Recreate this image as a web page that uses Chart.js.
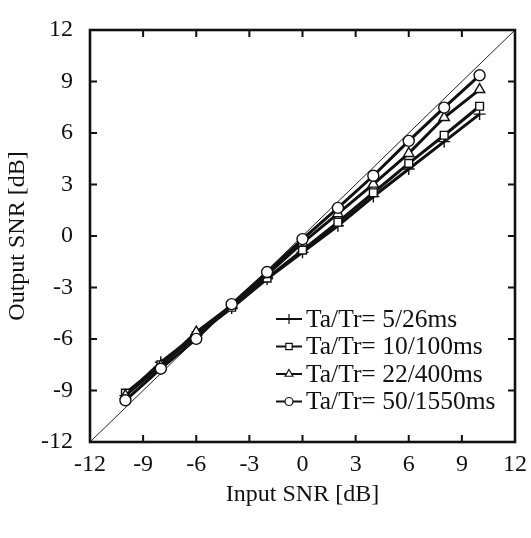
<!DOCTYPE html>
<html><head><meta charset="utf-8">
<script src="https://cdn.jsdelivr.net/npm/chart.js@4.4.0/dist/chart.umd.min.js"></script>
<style>html,body{margin:0;padding:0;background:#fff}#wrap{width:531px;height:538px}</style>
</head><body><div id="wrap"><canvas id="c" width="531" height="538"></canvas></div>
<script>
const inputSNR = [-10, -8, -6, -4, -2, 0, 2, 4, 6, 8, 10];
const out_5_26 = [-9.3, -7.35, -5.75, -4.2, -2.5, -0.95, 0.6, 2.3, 3.9, 5.5, 7.1];
const out_10_100 = [-9.15, -7.5, -5.8, -4.15, -2.45, -0.82, 0.8, 2.52, 4.23, 5.87, 7.56];
const out_22_400 = [-9.3, -7.55, -5.6, -4.05, -2.25, -0.4, 1.3, 3.02, 4.81, 6.9, 8.53];
const out_50_1550 = [-9.57, -7.73, -5.99, -3.97, -2.1, -0.18, 1.64, 3.51, 5.54, 7.48, 9.36];
const seriesLabels = ['Ta/Tr= 5/26ms', 'Ta/Tr= 10/100ms', 'Ta/Tr= 22/400ms', 'Ta/Tr= 50/1550ms'];
const pointStyles = ['cross', 'rect', 'triangle', 'circle'];
const tickValues = [-12, -9, -6, -3, 0, 3, 6, 9, 12];
const diagonal = [-12, 12];
const xTitle = 'Input SNR [dB]';
const yTitle = 'Output SNR [dB]';

const FONT = 'Liberation Serif';
const seriesValues = [out_5_26, out_10_100, out_22_400, out_50_1550];
const toPts = (ys) => inputSNR.map((x, i) => ({x: x, y: ys[i]}));
const plotRadius = {cross: 6, rect: 5.5, triangle: 6, circle: 5.5};
const legendRadius = {cross: 5, rect: 4.5, triangle: 4.5, circle: 4};

const datasets = seriesValues.map((ys, i) => ({
  label: seriesLabels[i],
  data: toPts(ys),
  showLine: true,
  borderColor: '#111',
  borderWidth: 3,
  pointStyle: pointStyles[i],
  pointRadius: plotRadius[pointStyles[i]],
  pointBorderWidth: 1.4,
  pointBackgroundColor: '#fff',
  pointBorderColor: '#111',
  order: 4 - i
}));
datasets.push({
  label: '_diag',
  data: diagonal.map(v => ({x: v, y: v})),
  showLine: true,
  borderColor: '#222',
  borderWidth: 1,
  pointRadius: 0,
  order: 10
});

const framePlugin = {
  id: 'frame',
  afterDraw(chart) {
    const {ctx, chartArea: a, scales} = chart;
    ctx.save();
    ctx.strokeStyle = '#111';
    ctx.lineWidth = 2.6;
    ctx.strokeRect(a.left, a.top, a.right - a.left, a.bottom - a.top);
    ctx.lineWidth = 2;
    const tl = 7;
    tickValues.slice(1, -1).forEach(v => {
      const px = scales.x.getPixelForValue(v);
      const py = scales.y.getPixelForValue(v);
      ctx.beginPath();
      ctx.moveTo(px, a.bottom); ctx.lineTo(px, a.bottom - tl);
      ctx.moveTo(px, a.top); ctx.lineTo(px, a.top + tl);
      ctx.moveTo(a.left, py); ctx.lineTo(a.left + tl, py);
      ctx.moveTo(a.right, py); ctx.lineTo(a.right - tl, py);
      ctx.stroke();
    });
    // legend inside plot area
    const rows = [319, 346.5, 374, 401.5];
    const x0 = 276, x1 = 302, tx = 306;
    ctx.font = '25.5px "' + FONT + '"';
    ctx.textBaseline = 'middle';
    ctx.textAlign = 'left';
    chart.data.datasets.forEach((ds, i) => {
      if (ds.label === '_diag') return;
      const y = rows[i];
      ctx.lineWidth = 2;
      ctx.strokeStyle = '#111';
      ctx.beginPath(); ctx.moveTo(x0, y); ctx.lineTo(x1, y); ctx.stroke();
      ctx.lineWidth = 1.2;
      ctx.fillStyle = '#fff';
      Chart.helpers.drawPoint(ctx, {pointStyle: ds.pointStyle, radius: legendRadius[ds.pointStyle], borderWidth: 1.2, rotation: 0}, (x0 + x1) / 2, y);
      ctx.fillStyle = '#111';
      ctx.fillText(ds.label, tx, y + 1);
    });
    ctx.restore();
  }
};

new Chart(document.getElementById('c'), {
  type: 'scatter',
  data: {datasets: datasets},
  options: {
    responsive: false,
    devicePixelRatio: 1,
    animation: false,
    layout: {padding: {left: 0, right: 16, top: 30, bottom: 0}},
    plugins: {legend: {display: false}, tooltip: {enabled: false}},
    scales: {
      x: {
        type: 'linear', min: -12, max: 12,
        afterBuildTicks: (s) => { s.ticks = tickValues.map(v => ({value: v})); },
        afterFit: (s) => { s.height = 96; s.paddingLeft = 0; s.paddingRight = 0; },
        grid: {display: false, drawTicks: false},
        border: {display: false},
        ticks: {color: '#111', font: {family: FONT, size: 24}, padding: 8, maxRotation: 0, autoSkip: false},
        title: {display: true, text: xTitle, color: '#111', font: {family: FONT, size: 24}, padding: {top: 4, bottom: 29}}
      },
      y: {
        type: 'linear', min: -12, max: 12,
        afterBuildTicks: (s) => { s.ticks = tickValues.map(v => ({value: v})); },
        afterFit: (s) => { s.width = 90; s.paddingTop = 0; s.paddingBottom = 0; },
        grid: {display: false, drawTicks: false},
        border: {display: false},
        ticks: {color: '#111', font: {family: FONT, size: 24}, padding: 17, autoSkip: false},
        title: {display: true, text: yTitle, color: '#111', font: {family: FONT, size: 24}, padding: {top: 3, bottom: 0}}
      }
    }
  },
  plugins: [framePlugin]
});
</script>
</body></html>
